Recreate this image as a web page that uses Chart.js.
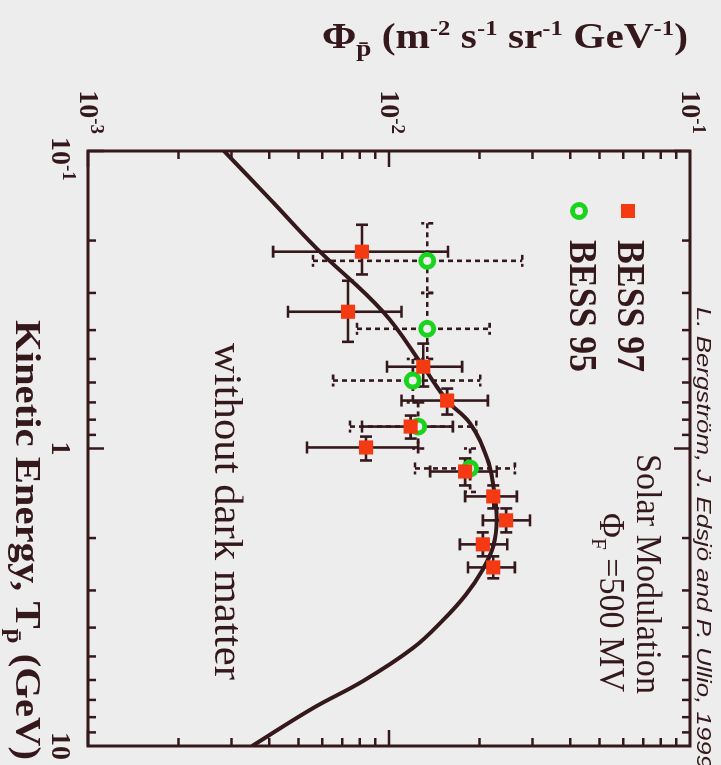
<!DOCTYPE html>
<html>
<head>
<meta charset="utf-8">
<script src="https://cdn.jsdelivr.net/npm/chart.js@4.4.1/dist/chart.umd.min.js"></script>
<style>
  html, body { margin: 0; padding: 0; overflow: hidden; background: #ededed; width: 721px; height: 765px; }
  /* the figure is drawn upright, then turned a quarter turn clockwise like the scan */
  #wrap { position: absolute; left: 0; top: 0; width: 765px; height: 721px;
          transform-origin: 0 0; transform: translate(721px, 0) rotate(90deg); }
</style>
</head>
<body>
<div id="wrap"><canvas id="fluxChart" width="765" height="721"></canvas></div>
<script>
// Kinetic energy (GeV) and antiproton flux (m^-2 s^-1 sr^-1 GeV^-1)

// BESS 97 (red squares)
const bess97E      = [0.218, 0.347, 0.531, 0.690, 0.844, 0.992, 1.195, 1.449, 1.744, 2.10, 2.51];
const bess97ELo    = [0.177, 0.273, 0.444, 0.629, 0.775, 0.912, 1.080, 1.331, 1.590, 1.914, 2.304];
const bess97EHi    = [0.260, 0.438, 0.619, 0.769, 0.926, 1.097, 1.331, 1.590, 1.914, 2.304, 2.731];
const bess97Flux   = [8.13e-3, 7.31e-3, 1.30e-2, 1.56e-2, 1.18e-2, 8.39e-3, 1.79e-2, 2.22e-2, 2.45e-2, 2.05e-2, 2.22e-2];
const bess97FluxLo = [4.12e-3, 4.62e-3, 9.85e-3, 1.10e-2, 8.13e-3, 5.34e-3, 1.37e-2, 1.79e-2, 2.05e-2, 1.72e-2, 1.83e-2];
const bess97FluxHi = [1.57e-2, 1.10e-2, 1.75e-2, 2.13e-2, 1.63e-2, 1.25e-2, 2.28e-2, 2.66e-2, 2.94e-2, 2.47e-2, 2.62e-2];

// BESS 95 (green circles, dashed error bars)
const bess95E      = [0.234, 0.396, 0.591, 0.844, 1.167];
const bess95ELo    = [0.175, 0.30, 0.50, 0.70, 1.00];
const bess95EHi    = [0.30, 0.50, 0.70, 1.00, 1.40];
const bess95Flux   = [1.34e-2, 1.34e-2, 1.20e-2, 1.25e-2, 1.86e-2];
const bess95FluxLo = [5.59e-3, 7.83e-3, 6.52e-3, 7.42e-3, 1.22e-2];
const bess95FluxHi = [2.77e-2, 2.16e-2, 2.01e-2, 1.95e-2, 2.62e-2];

// model curve without dark matter
const curveE    = [0.1, 0.145, 0.213, 0.347, 0.531, 0.690, 0.824, 1.08, 1.33, 1.72, 2.13, 2.57, 3.10, 3.78, 4.69, 6.05, 7.46, 10];
const curveFlux = [2.83e-3, 4.02e-3, 5.76e-3, 9.55e-3, 1.30e-2, 1.56e-2, 1.86e-2, 2.12e-2, 2.22e-2, 2.28e-2,
                   2.22e-2, 2.04e-2, 1.80e-2, 1.51e-2, 1.20e-2, 8.20e-3, 5.59e-3, 3.51e-3];

// tick labels
const energyTicks    = [0.1, 1, 10];
const energyTickBase = ['10', '1', '10'];
const energyTickExp  = ['-1', '', ''];
const fluxTicks      = [1e-3, 1e-2, 1e-1];
const fluxTickBase   = ['10', '10', '10'];
const fluxTickExp    = ['-3', '-2', '-1'];

const ink = '#34181b';
const red = '#f43a12';
const green = '#18d41c';
const serif = '"Liberation Serif", "Times New Roman", serif';
const sans = '"Liberation Sans", Arial, sans-serif';

// draw a run of text pieces (sub/superscripts), squeezed or stretched to a given width
function drawRich(ctx, parts, x, y, o) {
    ctx.save();
    ctx.translate(x, y);
    if (o.rot) ctx.rotate(o.rot);
    let w = 0;
    parts.forEach(p => { ctx.font = p.f; p.w = ctx.measureText(p.t).width; w += p.w; });
    const sx = o.width ? o.width / w : 1;
    ctx.scale(sx, 1);
    let cx = o.align === 'center' ? -w / 2 : (o.align === 'right' ? -w : 0);
    ctx.fillStyle = ink;
    ctx.textAlign = 'left';
    ctx.textBaseline = 'alphabetic';
    parts.forEach(p => { ctx.font = p.f; ctx.fillText(p.t, cx, p.dy || 0); cx += p.w; });
    ctx.restore();
}

function logTicks(min, max) {
    const out = [];
    for (let d = Math.round(Math.log10(min)); d < Math.round(Math.log10(max)); d++) {
        for (let m = 1; m <= 9; m++) out.push({ v: m * Math.pow(10, d), major: m === 1 });
    }
    return out;
}

function drawBars(ctx, x, y, e, eLo, eHi, f, fLo, fHi, dash) {
    const cap = 6;
    ctx.setLineDash(dash);
    e.forEach((ev, i) => {
        const px = x.getPixelForValue(ev), py = y.getPixelForValue(f[i]);
        const x0 = x.getPixelForValue(eLo[i]), x1 = x.getPixelForValue(eHi[i]);
        const y0 = y.getPixelForValue(fLo[i]), y1 = y.getPixelForValue(fHi[i]);
        ctx.beginPath();
        ctx.moveTo(x0, py); ctx.lineTo(x1, py);
        ctx.moveTo(px, y0); ctx.lineTo(px, y1);
        ctx.moveTo(x0, py - cap); ctx.lineTo(x0, py + cap);
        ctx.moveTo(x1, py - cap); ctx.lineTo(x1, py + cap);
        ctx.moveTo(px - cap, y0); ctx.lineTo(px + cap, y0);
        ctx.moveTo(px - cap, y1); ctx.lineTo(px + cap, y1);
        ctx.stroke();
    });
    ctx.setLineDash([]);
}

const errorBars = {
    id: 'errorBars',
    beforeDatasetsDraw(chart) {
        const { ctx, scales: { x, y } } = chart;
        ctx.save();
        ctx.strokeStyle = ink;
        ctx.lineWidth = 2.6;
        drawBars(ctx, x, y, bess95E, bess95ELo, bess95EHi, bess95Flux, bess95FluxLo, bess95FluxHi, [5, 4]);
        drawBars(ctx, x, y, bess97E, bess97ELo, bess97EHi, bess97Flux, bess97FluxLo, bess97FluxHi, []);
        ctx.restore();
    }
};

const frameAndText = {
    id: 'frameAndText',
    afterDraw(chart) {
        const { ctx, chartArea: a, scales: { x, y } } = chart;
        ctx.save();
        ctx.strokeStyle = ink;
        ctx.lineWidth = 3;
        ctx.strokeRect(a.left, a.top, a.right - a.left, a.bottom - a.top);

        // inward ticks on all four sides
        ctx.lineWidth = 2.5;
        ctx.beginPath();
        logTicks(0.1, 10).forEach(t => {
            const px = x.getPixelForValue(t.v), len = t.major ? 16 : 8;
            ctx.moveTo(px, a.bottom); ctx.lineTo(px, a.bottom - len);
            ctx.moveTo(px, a.top); ctx.lineTo(px, a.top + len);
        });
        logTicks(1e-3, 1e-1).forEach(t => {
            const py = y.getPixelForValue(t.v), len = t.major ? 16 : 8;
            ctx.moveTo(a.left, py); ctx.lineTo(a.left + len, py);
            ctx.moveTo(a.right, py); ctx.lineTo(a.right - len, py);
        });
        ctx.stroke();

        // tick labels
        ctx.fillStyle = ink;
        energyTicks.forEach((v, i) => {
            const px = x.getPixelForValue(v);
            ctx.font = `bold 28px ${serif}`;
            const wb = ctx.measureText(energyTickBase[i]).width;
            ctx.textAlign = 'left';
            ctx.fillText(energyTickBase[i], px - wb / 2, 669);
            if (energyTickExp[i]) {
                ctx.font = `bold 19px ${serif}`;
                ctx.fillText(energyTickExp[i], px + wb / 2, 658);
            }
        });
        fluxTicks.forEach((v, i) => {
            const py = y.getPixelForValue(v) + 8;
            drawRich(ctx, [
                { t: fluxTickBase[i], f: `bold 28px ${serif}` },
                { t: fluxTickExp[i], f: `bold 19px ${serif}`, dy: -11 }
            ], 134, py, { align: 'right' });
        });

        // axis titles
        const big = `bold 35px ${serif}`, sup = `bold 21px ${serif}`;
        drawRich(ctx, [
            { t: 'Φ', f: big }, { t: 'p̄', f: `bold 23px ${serif}`, dy: 8 },
            { t: ' (m', f: big }, { t: '-2', f: sup, dy: -13 },
            { t: ' s', f: big }, { t: '-1', f: sup, dy: -13 },
            { t: ' sr', f: big }, { t: '-1', f: sup, dy: -13 },
            { t: ' GeV', f: big }, { t: '-1', f: sup, dy: -13 },
            { t: ')', f: big }
        ], 48, 216, { rot: -Math.PI / 2, align: 'center', width: 366 });
        drawRich(ctx, [
            { t: 'Kinetic Energy, T', f: `bold 36px ${serif}` },
            { t: 'p̄', f: `bold 24px ${serif}`, dy: 9 },
            { t: ' (GeV)', f: `bold 36px ${serif}` }
        ], 320, 705, { width: 440 });

        // legend
        ctx.fillStyle = red;
        ctx.fillRect(211 - 7, 93 - 7, 14, 14);
        ctx.beginPath();
        ctx.arc(211, 142, 6.5, 0, Math.PI * 2);
        ctx.fillStyle = '#efefef';
        ctx.fill();
        ctx.strokeStyle = green;
        ctx.lineWidth = 5;
        ctx.stroke();
        drawRich(ctx, [{ t: 'BESS 97', f: `bold 40px ${serif}` }], 240, 103, { width: 132 });
        drawRich(ctx, [{ t: 'BESS 95', f: `bold 40px ${serif}` }], 240, 151, { width: 132 });

        // annotations
        drawRich(ctx, [{ t: 'Solar Modulation', f: `35px ${serif}` }], 454, 84, { width: 240 });
        drawRich(ctx, [
            { t: 'Φ', f: `35px ${serif}` }, { t: 'F', f: `22px ${serif}`, dy: 8 },
            { t: ' =500 MV', f: `35px ${serif}` }
        ], 513, 121, { width: 179 });
        drawRich(ctx, [{ t: 'L. Bergström, J. Edsjö and P. Ullio, 1999', f: `italic 21px ${sans}` }], 307, 24, { width: 462 });
        drawRich(ctx, [{ t: 'without dark matter', f: `41px ${serif}` }], 343, 506, { width: 337 });
        ctx.restore();
    }
};

const ctx = document.getElementById('fluxChart').getContext('2d');
const chart = new Chart(ctx, {
    type: 'scatter',
    data: {
        datasets: [
            {
                label: 'BESS 97',
                data: bess97E.map((e, i) => ({ x: e, y: bess97Flux[i] })),
                pointStyle: 'rect',
                pointRadius: 10,
                backgroundColor: red,
                borderWidth: 0
            },
            {
                label: 'BESS 95',
                data: bess95E.map((e, i) => ({ x: e, y: bess95Flux[i] })),
                pointStyle: 'circle',
                pointRadius: 6.5,
                backgroundColor: '#efefef',
                borderColor: green,
                borderWidth: 5
            },
            {
                label: 'without dark matter',
                data: curveE.map((e, i) => ({ x: e, y: curveFlux[i] })),
                showLine: true,
                pointRadius: 0,
                borderColor: ink,
                borderWidth: 4,
                tension: 0.4
            }
        ]
    },
    options: {
        responsive: false,
        animation: false,
        devicePixelRatio: 1,
        layout: { padding: { left: 151, right: 19, top: 31, bottom: 88 } },
        scales: {
            x: { type: 'logarithmic', min: 0.1, max: 10, display: false },
            y: { type: 'logarithmic', min: 1e-3, max: 1e-1, display: false }
        },
        plugins: {
            legend: { display: false },
            tooltip: { enabled: false }
        }
    },
    plugins: [errorBars, frameAndText]
});
</script>
</body>
</html>
